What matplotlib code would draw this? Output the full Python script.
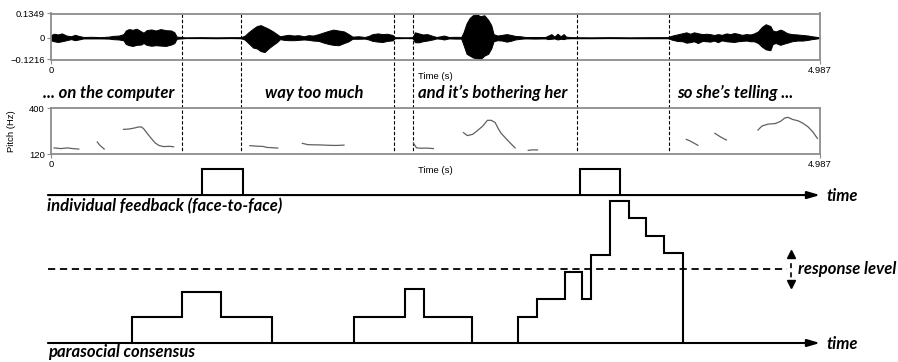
import numpy as np
import matplotlib.pyplot as plt

# ---- speech signal (seconds) ----
duration = 4.987
wave_t = [0.00, 0.02, 0.045, 0.07, 0.10, 0.13, 0.155, 0.18, 0.21, 0.26, 0.32, 0.375, 0.40, 0.44, 0.47,
          0.485, 0.505, 0.53, 0.555, 0.585, 0.60, 0.62, 0.65, 0.68, 0.71, 0.745, 0.78, 0.80, 0.815,
          0.875, 0.97, 1.07, 1.165, 1.23, 1.255, 1.28, 1.31, 1.335, 1.36, 1.385, 1.41, 1.44, 1.465,
          1.485, 1.51, 1.54, 1.575, 1.605, 1.64, 1.67, 1.70, 1.735, 1.77, 1.80, 1.83, 1.865, 1.90,
          1.93, 1.955, 1.995, 2.035, 2.06, 2.085, 2.12, 2.15, 2.18, 2.215, 2.23, 2.30, 2.345, 2.36,
          2.385, 2.41, 2.44, 2.475, 2.50, 2.525, 2.55, 2.58, 2.625, 2.66, 2.675, 2.695, 2.715, 2.735,
          2.76, 2.785, 2.81, 2.835, 2.855, 2.87, 2.895, 2.925, 2.955, 2.98, 3.01, 3.045, 3.075, 3.14,
          3.205, 3.225, 3.245, 3.265, 3.285, 3.305, 3.325, 3.34, 3.37, 3.50, 3.625, 3.755, 3.885,
          4.00, 4.03, 4.06, 4.095, 4.12, 4.145, 4.17, 4.195, 4.225, 4.25, 4.275, 4.30, 4.325, 4.35,
          4.38, 4.405, 4.43, 4.455, 4.48, 4.51, 4.535, 4.56, 4.585, 4.61, 4.635, 4.665, 4.68, 4.70,
          4.73, 4.745, 4.775, 4.805, 4.84, 4.875, 4.91, 4.935, 4.97, 4.987]
wave_hi = [0.015, 0.022, 0.018, 0.024, 0.012, 0.008, 0.016, 0.010, 0.004, 0.005, 0.003, 0.006, 0.010,
           0.012, 0.020, 0.040, 0.048, 0.044, 0.050, 0.035, 0.028, 0.042, 0.046, 0.040, 0.048, 0.042,
           0.040, 0.030, 0.006, 0.002, 0.003, 0.002, 0.003, 0.003, 0.010, 0.030, 0.050, 0.065, 0.070,
           0.060, 0.050, 0.035, 0.020, 0.008, 0.012, 0.016, 0.012, 0.014, 0.008, 0.014, 0.012, 0.020,
           0.030, 0.038, 0.045, 0.040, 0.035, 0.020, 0.006, 0.008, 0.004, 0.010, 0.020, 0.024, 0.020,
           0.022, 0.015, 0.003, 0.002, 0.003, 0.030, 0.024, 0.018, 0.020, 0.010, 0.004, 0.008, 0.012,
           0.004, 0.005, 0.004, 0.030, 0.080, 0.110, 0.125, 0.130, 0.120, 0.125, 0.100, 0.070, 0.020,
           0.012, 0.016, 0.020, 0.016, 0.010, 0.008, 0.004, 0.004, 0.004, 0.012, 0.020, 0.006, 0.022,
           0.008, 0.020, 0.006, 0.003, 0.002, 0.003, 0.002, 0.003, 0.003, 0.012, 0.018, 0.025, 0.030,
           0.022, 0.030, 0.025, 0.020, 0.022, 0.020, 0.015, 0.020, 0.016, 0.024, 0.020, 0.026, 0.022,
           0.016, 0.020, 0.018, 0.024, 0.035, 0.060, 0.075, 0.065, 0.040, 0.035, 0.045, 0.040, 0.025,
           0.020, 0.018, 0.015, 0.012, 0.008, 0.004, 0.000]
wave_lo = [0.015, 0.020, 0.024, 0.020, 0.014, 0.008, 0.014, 0.010, 0.004, 0.004, 0.004, 0.005, 0.008,
           0.010, 0.015, 0.035, 0.042, 0.046, 0.040, 0.038, 0.030, 0.040, 0.045, 0.042, 0.044, 0.046,
           0.038, 0.030, 0.006, 0.002, 0.002, 0.003, 0.002, 0.003, 0.010, 0.030, 0.055, 0.060, 0.075,
           0.080, 0.060, 0.040, 0.025, 0.008, 0.012, 0.014, 0.014, 0.012, 0.010, 0.012, 0.016, 0.018,
           0.028, 0.035, 0.040, 0.042, 0.030, 0.020, 0.006, 0.006, 0.005, 0.010, 0.018, 0.022, 0.024,
           0.018, 0.015, 0.003, 0.002, 0.003, 0.025, 0.026, 0.020, 0.016, 0.010, 0.004, 0.006, 0.010,
           0.004, 0.005, 0.005, 0.040, 0.090, 0.100, 0.110, 0.115, 0.120, 0.100, 0.090, 0.060, 0.020,
           0.014, 0.016, 0.022, 0.018, 0.010, 0.006, 0.004, 0.005, 0.004, 0.008, 0.006, 0.004, 0.010,
           0.006, 0.008, 0.004, 0.003, 0.003, 0.002, 0.003, 0.003, 0.003, 0.012, 0.018, 0.020, 0.028,
           0.025, 0.020, 0.030, 0.018, 0.020, 0.022, 0.016, 0.025, 0.015, 0.020, 0.022, 0.024, 0.020,
           0.018, 0.016, 0.020, 0.020, 0.030, 0.050, 0.065, 0.070, 0.035, 0.030, 0.040, 0.035, 0.028,
           0.020, 0.016, 0.016, 0.012, 0.008, 0.004, 0.000]

# ---- pitch contours (s, Hz) ----
pitch_t = [[0.02, 0.065, 0.105, 0.14, 0.18],
           [0.30, 0.315, 0.345],
           [0.47, 0.505, 0.54, 0.565, 0.585, 0.60, 0.62, 0.65, 0.675, 0.70, 0.73, 0.765, 0.795],
           [1.29, 1.33, 1.375, 1.40, 1.44, 1.47],
           [1.63, 1.665, 1.70, 1.75, 1.80, 1.85, 1.90],
           [2.35, 2.37, 2.395, 2.435, 2.48],
           [2.675, 2.70, 2.735, 2.765, 2.80, 2.83, 2.855, 2.88, 2.90, 2.92, 2.945, 2.98, 3.01],
           [3.095, 3.12, 3.155],
           [4.12, 4.145, 4.195],
           [4.305, 4.34, 4.38],
           [4.585, 4.61, 4.65, 4.695, 4.73, 4.76, 4.78, 4.81, 4.845, 4.875, 4.91, 4.94, 4.97]]
pitch_hz = [[157, 153, 157, 153, 150],
            [193, 175, 150],
            [270, 272, 278, 284, 285, 275, 250, 215, 188, 172, 165, 167, 164],
            [171, 168, 166, 160, 158, 156],
            [185, 177, 176, 175, 173, 172, 174],
            [187, 158, 155, 156, 153],
            [250, 232, 240, 262, 290, 325, 325, 312, 275, 245, 220, 185, 157],
            [142, 145, 145],
            [209, 199, 173],
            [246, 225, 205],
            [266, 290, 302, 305, 318, 340, 343, 330, 322, 308, 285, 255, 215]]

# phrase boundaries and transcript
boundaries = [0.85, 1.232, 2.224, 2.347, 3.411, 4.008]
phrases = ['... on the computer', 'way too much', 'and it\u2019s bothering her', 'so she\u2019s telling ...']
phrase_x = [-0.052, 1.388, 2.38, 4.06]

# ---- response model (arbitrary level units) ----
feedback_base = 5.69
feedback_edges = [[0.98, 1.245], [3.43, 3.69]]
feedback_height = 1.0
consensus_edges = [[0.525, 0.85, 1.10, 1.433],
                   [1.965, 2.296, 2.419, 2.73],
                   [3.03, 3.15, 3.335, 3.445, 3.50, 3.625, 3.75, 3.86, 3.975, 4.10]]
consensus_levels = [[1.0, 1.96, 1.0],
                    [1.0, 2.08, 1.0],
                    [1.0, 1.69, 2.73, 1.69, 3.38, 5.46, 4.81, 4.12, 3.46]]
response_level = 2.85

W, H = 898, 362
x0, x1 = 51, 820
sec_per_px = duration / (x1 - x0)
lvl_px = 26.0
base_py = 343

fig = plt.figure(figsize=(W / 100, H / 100), dpi=100)
ax = fig.add_axes([0, 0, 1, 1])
ax.set_xlim(-x0 * sec_per_px, (W - x0) * sec_per_px)
ax.set_ylim((base_py - H) / lvl_px, base_py / lvl_px)
ax.axis('off')

bold_it = dict(family=['Lato', 'DejaVu Sans'], weight='bold', style='italic', fontsize=12)

# dashed phrase boundaries across both panels
for b in boundaries:
    ax.plot([b, b], [(base_py - 14) / lvl_px, (base_py - 153) / lvl_px], color='black',
            lw=0.8, ls=(0, (3, 1.8)))
for txt, px in zip(phrases, phrase_x):
    ax.text(px, (base_py - 93) / lvl_px, txt, va='center', ha='left', **bold_it)

# time axes with arrows
arrow = dict(arrowstyle='-|>,head_length=0.75,head_width=0.22', lw=1.5, color='black',
             shrinkA=0, shrinkB=0)
for yb in [feedback_base, 0.0]:
    ax.annotate('', xy=(duration, yb), xytext=(-0.02, yb), arrowprops=arrow)
    ax.text(5.03, yb - 0.05, 'time', va='center', ha='left', **bold_it)

for e in feedback_edges:
    ax.stairs([feedback_height + feedback_base], e, baseline=feedback_base, color='black', lw=1.5)
for e, v in zip(consensus_edges, consensus_levels):
    ax.stairs(v, e, baseline=0, color='black', lw=1.5)

ax.plot([-0.02, 4.77], [response_level, response_level], color='black', lw=1.3,
        ls=(0, (4, 2.6)))
ax.plot([4.80, 4.80], [3.42, 2.27], color='black', lw=1.2, ls=(0, (3, 2.5)))
ax.plot([4.80], [3.42], marker='^', color='black', ms=6)
ax.plot([4.80], [2.27], marker='v', color='black', ms=6)
ax.text(4.845, response_level, 'response level', va='center', ha='left', **bold_it)

ax.text(-0.026, (base_py - 206) / lvl_px, 'individual feedback (face-to-face)',
        va='center', ha='left', **bold_it)
ax.text(-0.02, (base_py - 352) / lvl_px, 'parasocial consensus',
        va='center', ha='left', **bold_it)

# ---- waveform and pitch panels ----
frame = '#8c8c8c'
small = dict(family=['Liberation Sans', 'DejaVu Sans'], size=6.8)


def panel(top_px, bottom_px):
    a = fig.add_axes([x0 / W, 1 - bottom_px / H, (x1 - x0) / W, (bottom_px - top_px) / H])
    a.patch.set_alpha(0)
    a.set_xlim(0, duration)
    for s in a.spines.values():
        s.set_color(frame)
        s.set_linewidth(1.3)
    a.tick_params(length=3, width=0.8, color=frame, pad=1.5, labelsize=6.8)
    a.set_xticks([0, duration])
    a.set_xticklabels(['0', '4.987'], **small)
    a.set_xlabel('Time (s)', **small)
    a.xaxis.set_label_coords(0.5, -0.27)
    return a


aw = panel(13.5, 59.5)
aw.fill_between(wave_t, -np.array(wave_lo), wave_hi, color='black', lw=0.7, edgecolor='black')
aw.plot(wave_t, np.zeros(len(wave_t)), color='black', lw=0.8)
aw.set_ylim(-0.1216, 0.1349)
aw.set_yticks([-0.1216, 0, 0.1349])
aw.set_yticklabels(['\u22120.1216', '0', '0.1349'], **small)

ap = panel(108, 154)
for t, hz in zip(pitch_t, pitch_hz):
    ap.plot(t, hz, color='#606060', lw=0.9)
ap.set_ylim(120, 400)
ap.set_yticks([120, 400])
ap.set_yticklabels(['120', '400'], **small)
ap.set_ylabel('Pitch (Hz)', **small)
ap.yaxis.set_label_coords(-0.046, 0.5)

fig.savefig('out.png', dpi=100)
